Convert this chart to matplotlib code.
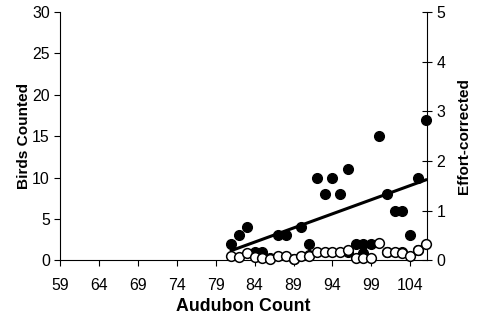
import matplotlib
matplotlib.use("Agg")
import matplotlib.pyplot as plt
import numpy as np

plt.rcParams['font.family'] = ['Liberation Sans', 'DejaVu Sans']

# Data (one entry per year): Audubon count, birds counted, effort-corrected
audubon = [81, 82, 83, 84, 85, 86, 87, 88, 89, 90, 91, 92, 93,
           94, 95, 96, 97, 98, 99, 100, 101, 102, 103, 104, 105, 106]
birds = [2, 3, 4, 1, 1, 0.3, 3, 3, 0.2, 4, 2, 10, 8,
         10, 8, 11, 2, 2, 2, 15, 8, 6, 6, 3, 10, 17]
effort = [0.09, 0.07, 0.14, 0.06, 0.05, 0.02, 0.09, 0.09, 0.02, 0.09, 0.09, 0.16, 0.16,
          0.16, 0.16, 0.21, 0.05, 0.05, 0.05, 0.34, 0.17, 0.17, 0.14, 0.08, 0.21, 0.33]

# Partly hidden filled points behind the open circles
audubon_hidden = [91, 96, 98, 101, 103, 105]
birds_hidden = [0.6, 1.0, 0.9, 1.0, 1.0, 1.2]

x_ticks = [59, 64, 69, 74, 79, 84, 89, 94, 99, 104]
left_ticks = [0, 5, 10, 15, 20, 25, 30]
right_ticks = [0, 1, 2, 3, 4, 5]

fig = plt.figure(figsize=(4.78, 3.21), dpi=100)
ax = fig.add_axes([0.126, 0.189, 0.767, 0.774])
ax2 = ax.twinx()

x = np.array(audubon, dtype=float)
b = np.array(birds, dtype=float)
coef = np.polyfit(x, b, 1)
xl = np.array([x.min(), x.max()])

ax.plot(x, b, 'o', color='black', markersize=7, zorder=3, clip_on=False)
ax.plot(audubon_hidden, birds_hidden, 'o', color='black', markersize=7, zorder=3, clip_on=False)
ax.plot(xl, np.polyval(coef, xl), color='black', lw=2.2, zorder=4, clip_on=False)
ax2.plot(x, effort, 'o', markerfacecolor='white', markeredgecolor='black',
         markeredgewidth=1.1, markersize=7, zorder=5, clip_on=False)

ax.set_xlim(59, 106.15)
ax.set_ylim(0, 30)
ax2.set_ylim(0, 5)
ax.set_xticks(x_ticks)
ax.set_yticks(left_ticks)
ax2.set_yticks(right_ticks)

for a in (ax, ax2):
    a.spines['top'].set_visible(False)
ax.spines['right'].set_visible(False)
ax2.spines['left'].set_visible(False)
ax2.spines['bottom'].set_visible(False)

ax.tick_params(axis='both', direction='out', length=4, width=0.8, labelsize=11.4)
ax.tick_params(axis='x', pad=8.5)
ax2.tick_params(axis='y', direction='inout', length=7, width=0.8, labelsize=11.4)

ax.set_xlabel('Audubon Count', fontsize=12.8, fontweight='bold', labelpad=4)
ax.set_ylabel('Birds Counted', fontsize=11.1, fontweight='bold', labelpad=1)
ax2.set_ylabel('Effort-corrected', fontsize=11.1, fontweight='bold', labelpad=8)

fig.savefig('out.png', dpi=100)
